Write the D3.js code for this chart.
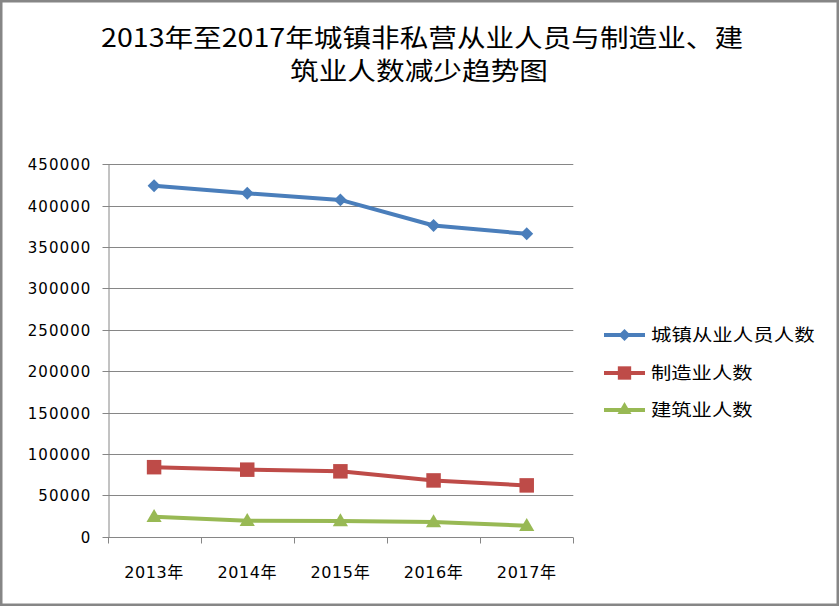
<!DOCTYPE html>
<html>
<head>
<meta charset="utf-8">
<script src="https://cdn.jsdelivr.net/npm/d3@7"></script>
<style>
  html, body { margin: 0; padding: 0; background: #fff; }
  svg { display: block; }
</style>
</head>
<body>
<div id="chart"></div>
<script>
// data
const years = ["2013年", "2014年", "2015年", "2016年", "2017年"];
const townWorkers = [424000, 415000, 407000, 376000, 366000];
const manufacturing = [84000, 81000, 79000, 68000, 62000];
const construction = [24200, 19300, 19000, 17800, 13300];
const seriesNames = ["城镇从业人员人数", "制造业人数", "建筑业人数"];
const yTicks = [0, 50000, 100000, 150000, 200000, 250000, 300000, 350000, 400000, 450000];
const titleLines = ["2013年至2017年城镇非私营从业人员与制造业、建", "筑业人数减少趋势图"];

const width = 839,
      height = 606;

const plot = { left: 107.5, right: 573.3, top: 164.3, bottom: 536.7 };

const colors = ["#4a7ebb", "#be4b48", "#98b954"];
const gridColor = "#868686";
const cjkFont = "'Noto Sans CJK SC', sans-serif";
const numFont = "'DejaVu Sans', 'Noto Sans CJK SC', sans-serif";

const series = [
  { name: seriesNames[0], values: townWorkers, color: colors[0], shape: "diamond" },
  { name: seriesNames[1], values: manufacturing, color: colors[1], shape: "square" },
  { name: seriesNames[2], values: construction, color: colors[2], shape: "triangle" }
];

const svg = d3.select("#chart").append("svg")
    .attr("width", width)
    .attr("height", height)
    .attr("viewBox", `0 0 ${width} ${height}`);

// outer chart border
svg.append("rect")
    .attr("x", 1.25).attr("y", 1.25)
    .attr("width", width - 2.5).attr("height", height - 2.5)
    .attr("fill", "#fff")
    .attr("stroke", gridColor)
    .attr("stroke-width", 2.5);

// title, two lines, stretched like the original
const titleWidths = [642, 258];
svg.append("g")
    .selectAll("text")
    .data(titleLines)
    .join("text")
    .attr("x", (d, i) => i === 0 ? 422 : 419)
    .attr("y", (d, i) => 47 + i * 33)
    .attr("text-anchor", "middle")
    .attr("textLength", (d, i) => titleWidths[i])
    .attr("lengthAdjust", "spacingAndGlyphs")
    .style("font-family", cjkFont)
    .style("font-size", "25px")
    .style("fill", "#000")
    .text(d => d);

const x = d3.scaleBand()
    .domain(years)
    .range([plot.left, plot.right])
    .padding(0);

const y = d3.scaleLinear()
    .domain([0, 450000])
    .range([plot.bottom, plot.top]);

// horizontal gridlines
svg.append("g")
    .selectAll("line")
    .data(yTicks.filter(d => d > 0))
    .join("line")
    .attr("x1", plot.left)
    .attr("x2", plot.right)
    .attr("y1", d => Math.round(y(d)) + 0.5)
    .attr("y2", d => Math.round(y(d)) + 0.5)
    .attr("stroke", gridColor)
    .attr("stroke-width", 1);

// y axis
const yAxis = svg.append("g")
    .attr("transform", `translate(${Math.round(plot.left) + 0.5},0)`)
    .call(d3.axisLeft(y).tickValues(yTicks).tickSize(6).tickSizeOuter(0).tickPadding(11)
        .tickFormat(d3.format("d")));
yAxis.selectAll("line, path").attr("stroke", gridColor);
yAxis.selectAll(".tick").attr("transform", d => `translate(0,${Math.round(y(d)) + 0.5})`);
yAxis.selectAll("text")
    .style("font-family", numFont)
    .style("font-size", "15px")
    .style("letter-spacing", "1.1px")
    .attr("dy", "0.36em")
    .style("fill", "#000");

// x axis: ticks sit on band edges, labels at band centers
const xAxis = svg.append("g")
    .attr("transform", `translate(0,${Math.round(plot.bottom) + 0.5})`);
xAxis.append("line")
    .attr("x1", plot.left).attr("x2", plot.right)
    .attr("stroke", gridColor);
xAxis.selectAll(".xtick")
    .data(years.map(d => x(d)).concat([plot.right]))
    .join("line")
    .attr("class", "xtick")
    .attr("x1", d => Math.round(d) + 0.5)
    .attr("x2", d => Math.round(d) + 0.5)
    .attr("y1", 0).attr("y2", 6)
    .attr("stroke", gridColor);
xAxis.selectAll("text")
    .data(years)
    .join("text")
    .attr("x", d => x(d) + x.bandwidth() / 2)
    .attr("y", 40)
    .attr("text-anchor", "middle")
    .style("font-family", numFont)
    .style("font-size", "16px")
    .style("letter-spacing", "0.6px")
    .style("fill", "#000")
    .text(d => d);

function markerPath(shape, scale) {
  if (shape === "diamond") return d3.symbol(d3.symbolSquare, 84 * scale)();
  if (shape === "square") return d3.symbol(d3.symbolSquare, 210 * scale)();
  return d3.symbol(d3.symbolTriangle, 100 * scale)();
}

const line = d3.line()
    .x((d, i) => x(years[i]) + x.bandwidth() / 2)
    .y(d => y(d));

const seriesG = svg.append("g")
    .selectAll("g")
    .data(series)
    .join("g");

seriesG.append("path")
    .attr("d", d => line(d.values))
    .attr("fill", "none")
    .attr("stroke", d => d.color)
    .attr("stroke-width", 4)
    .attr("stroke-linejoin", "round");

seriesG.each(function (s) {
  d3.select(this).selectAll("path.marker")
      .data(s.values)
      .join("path")
      .attr("class", "marker")
      .attr("d", markerPath(s.shape, 1))
      .attr("transform", (d, i) => {
        const px = x(years[i]) + x.bandwidth() / 2;
        const py = y(d) + (s.shape === "triangle" ? 1 : 0);
        return `translate(${px},${py})` + (s.shape === "diamond" ? " rotate(45)" : "");
      })
      .attr("fill", s.color);
});

// legend
const legend = svg.append("g")
    .selectAll("g")
    .data(series)
    .join("g")
    .attr("transform", (d, i) => `translate(604,${[335, 373, 410][i]})`);

legend.append("line")
    .attr("x1", 0).attr("x2", 41)
    .attr("stroke", d => d.color)
    .attr("stroke-width", 4);

legend.append("path")
    .attr("d", d => markerPath(d.shape, 0.85))
    .attr("transform", d => "translate(20.5,0)" + (d.shape === "diamond" ? " rotate(45)" : ""))
    .attr("fill", d => d.color);

legend.append("text")
    .attr("x", 47)
    .attr("dy", "0.36em")
    .attr("textLength", d => d.name.length * 20.7 - 2)
    .attr("lengthAdjust", "spacingAndGlyphs")
    .style("font-family", cjkFont)
    .style("font-size", "17px")
    .style("fill", "#000")
    .text(d => d.name);
</script>
</body>
</html>
